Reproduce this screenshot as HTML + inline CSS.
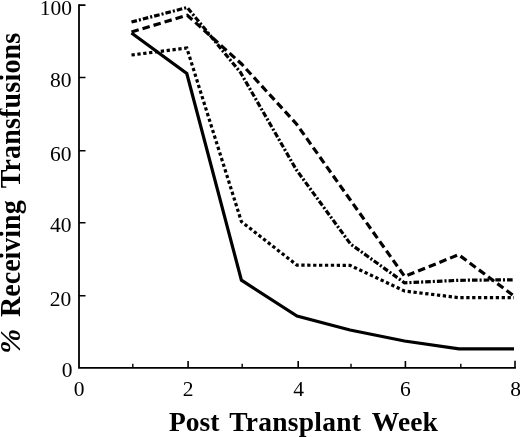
<!DOCTYPE html>
<html>
<head>
<meta charset="utf-8">
<title>Chart</title>
<style>
html,body{margin:0;padding:0;background:#fff;}
body{width:520px;height:437px;overflow:hidden;font-family:"Liberation Serif",serif;}
svg{display:block;will-change:transform;}
text{font-family:"Liberation Serif",serif;fill:#000;}
.tick{font-size:21.5px;}
.xl{font-size:27.5px;font-weight:bold;}
.yl{font-size:28px;font-weight:bold;}
</style>
</head>
<body>
<svg width="520" height="437" viewBox="0 0 520 437">
<rect width="520" height="437" fill="#fff"/>
<!-- axes -->
<g stroke="#000" stroke-width="1.8" fill="none" stroke-linecap="butt">
<path d="M79 4.3 V367.8 H515.9"/>
<!-- y ticks -->
<path d="M79 5.1 H85.5 M79 77.5 H85.5 M79 150.8 H85.5 M79 222.8 H85.5 M79 295.7 H85.5" stroke-width="1.6"/>
<!-- x major ticks -->
<path d="M188.1 367.8 V361 M298.2 367.8 V361 M405.4 367.8 V361 M515 367.8 V360.8" stroke-width="1.6"/>
<!-- x minor ticks -->
<path d="M132.8 367.8 V363.8 M242.2 367.8 V363.8 M351 367.8 V363.8 M460.8 367.8 V363.8" stroke-width="1.4"/>
</g>
<!-- data -->
<g stroke="#000" stroke-width="3.2" fill="none" stroke-linejoin="miter">
<polyline points="131.5,33 186.8,73.5 241.4,280.2 297,316 350,330 404.5,341 459,348.8 514,348.8"/>
<polyline stroke-dasharray="3.3 2.6" points="131.5,55 186.8,48 241.4,221.6 297,265.2 350,265.3 404.5,291 459,297.7 514,297.7"/>
<polyline stroke-dasharray="7.5 4" points="131.5,32 187.3,15.2 241.6,64 296.5,124 350,199.5 404.6,276.4 458.6,254.7 514,296"/>
<polyline stroke-dasharray="5.6 2 2.1 2" points="131.5,22 187.3,7.5 240.5,72.5 296.3,169.7 350.5,244 404.5,282.8 459,280.3 514,279.8"/>
</g>
<!-- tick labels -->
<g class="tick" text-anchor="end">
<text x="72" y="14.9">100</text>
<text x="71.4" y="87.3">80</text>
<text x="71.4" y="160.7">60</text>
<text x="71.4" y="232.2">40</text>
<text x="71.3" y="305.7">20</text>
<text x="72.4" y="377">0</text>
</g>
<g class="tick" text-anchor="middle">
<text x="79" y="396">0</text>
<text x="188" y="396">2</text>
<text x="298.5" y="396">4</text>
<text x="405.3" y="396">6</text>
<text x="515.5" y="396">8</text>
</g>
<g class="xl">
<text x="168.9" y="430.6">Post</text>
<text x="229.3" y="430.6" textLength="131.6" lengthAdjust="spacing">Transplant</text>
<text x="371.8" y="430.6" textLength="66" lengthAdjust="spacing">Week</text>
</g>
<text class="yl" transform="translate(20.2 353.8) rotate(-90)" style="font-style:italic;font-size:30px">%</text>
<g class="yl" transform="translate(20.1 0) rotate(-90) scale(1 1.04)">
<text x="-316.9" y="0">Receiving</text>
<text x="-188.3" y="0" textLength="155.5" lengthAdjust="spacing">Transfusions</text>
</g>
</svg>
</body>
</html>
